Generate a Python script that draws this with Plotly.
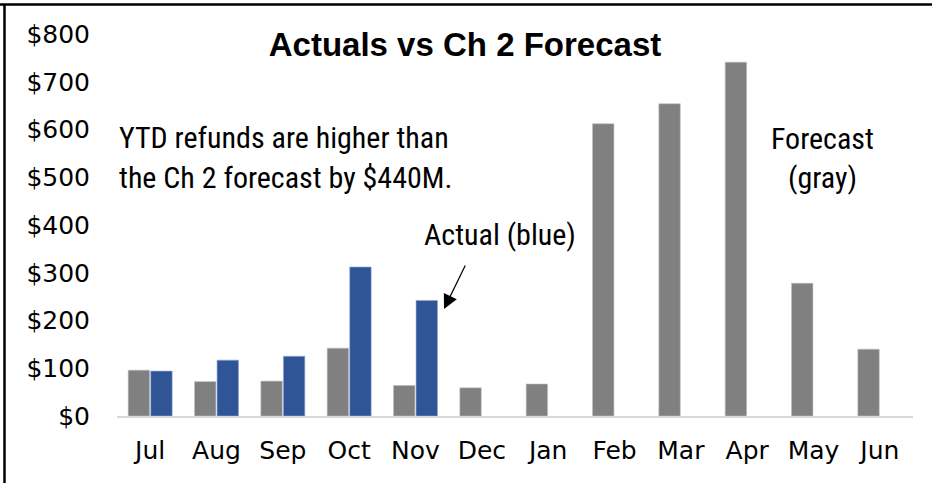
import plotly.graph_objects as go

months = ["Jul", "Aug", "Sep", "Oct", "Nov", "Dec", "Jan", "Feb", "Mar", "Apr", "May", "Jun"]
forecast = [96, 72, 73, 142, 64, 59, 67, 612, 654, 741, 278, 140]
actual = [94, 117, 125, 312, 242, None, None, None, None, None, None, None]
y_ticks = [0, 100, 200, 300, 400, 500, 600, 700, 800]
y_tick_labels = ["$" + str(v) for v in y_ticks]

W, H = 932, 483
L, R, T, B = 117, 19, 34, 67
pw, ph = W - L - R, H - T - B

def px(x):
    return (x - L) / pw

def py(y):
    return (H - B - y) / ph

fig = go.Figure()
fig.add_trace(go.Bar(x=months, y=forecast, name="Forecast",
                     marker=dict(color="#808080", line=dict(color="#bfbfbf", width=0.6))))
fig.add_trace(go.Bar(x=months, y=actual, name="Actual",
                     marker=dict(color="#2F5597", line=dict(color="#8fa9d6", width=0.6))))

tick_font = dict(family="DejaVu Sans, sans-serif", size=25, color="#000000")
note_font = dict(family="Liberation Sans Narrow, Roboto Condensed, Liberation Sans, sans-serif", size=30, color="#000000")

fig.update_layout(
    width=W, height=H,
    margin=dict(l=L, r=R, t=T, b=B),
    paper_bgcolor="white", plot_bgcolor="white",
    barmode="group", bargap=0.32, bargroupgap=0.05,
    showlegend=False,
    title=dict(text="<b>Actuals vs Ch 2 Forecast</b>", x=465 / W, xanchor="center",
               y=1 - 44 / H, yanchor="middle",
               font=dict(family="Liberation Sans, Arial, sans-serif", size=33, color="#000000")),
    xaxis=dict(showgrid=False, showline=True, linecolor="#D9D9D9", linewidth=2,
               ticks="", tickfont=tick_font, ticklabelstandoff=11),
    yaxis=dict(range=[0, 800], showgrid=False, zeroline=False, showline=False,
               tickvals=y_ticks, ticktext=y_tick_labels, ticks="",
               tickfont=tick_font, ticklabelstandoff=26),
)

annos = [
    ("YTD refunds are higher than", 117, 137, "left"),
    ("the Ch 2 forecast by $440M.", 117, 178, "left"),
    ("Forecast", 822, 138, "center"),
    ("(gray)", 822, 178, "center"),
    ("Actual (blue)", 500, 234, "center"),
]
for txt, x, y, anc in annos:
    fig.add_annotation(text=txt, xref="paper", yref="paper", x=px(x), y=py(y),
                       xanchor=anc, yanchor="middle", showarrow=False, font=note_font)

fig.add_annotation(text="", xref="paper", yref="paper", x=px(444), y=py(309),
                   ax=22, ay=-45, showarrow=True, arrowhead=2, arrowsize=2.4,
                   arrowwidth=1.2, arrowcolor="#000000")

# frame lines (top and left) around the chart
fig.add_shape(type="line", xref="paper", yref="paper", x0=px(0), x1=px(W), y0=py(4.5), y1=py(4.5),
              line=dict(color="#000000", width=2.5))
fig.add_shape(type="line", xref="paper", yref="paper", x0=px(4.5), x1=px(4.5), y0=py(4), y1=py(H),
              line=dict(color="#000000", width=2.5))

fig.write_html("out.html", config={"displayModeBar": False},
               post_script="document.body.style.margin='0';")
